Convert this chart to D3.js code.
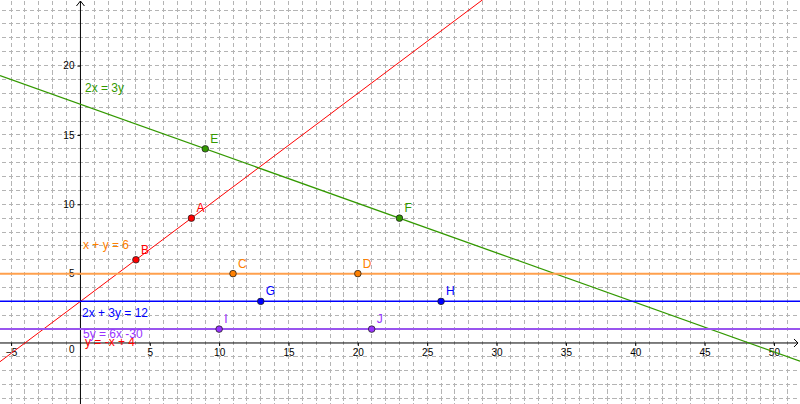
<!DOCTYPE html>
<html>
<head>
<meta charset="utf-8">
<script src="https://cdn.jsdelivr.net/npm/d3@7"></script>
<style>
  body { margin: 0; background: #fff; }
  svg { display: block; font-family: "Liberation Sans", Arial, sans-serif; }
</style>
</head>
<body>
<div id="chart"></div>
<script>
// ===== DATA =====
const lineLabels = ["y = -x + 4", "2x = 3y", "x + y = 6", "2x + 3y = 12", "5y = 6x -30"];
const pointNames = ["A", "B", "E", "F", "C", "D", "G", "H", "I", "J"];
const pointX     = [8, 4, 9, 23, 11, 20, 13, 26, 10, 21];
const pointY     = [9, 6, 14, 9, 5, 5, 3, 3, 1, 1];
const pointLine  = [0, 0, 1, 1, 2, 2, 3, 3, 4, 4];
const xTicks = [-5, 5, 10, 15, 20, 25, 30, 35, 40, 45, 50];
const yTicks = [5, 10, 15, 20];

// ===== STYLE / LAYOUT =====
const width = 800;
const height = 404;
const view = { xMin: -5.8, xMax: 51.88, yMin: -4.4, yMax: 24.73 };

const lineColor  = ["#ff0000", "#339900", "#ffa04d", "#0000ff", "#9955ee"];
const textColor  = ["#ff0000", "#339900", "#ff8000", "#0000ff", "#9933ff"];
const lineWidth  = [1, 1.3, 2, 1.5, 2];
// label anchor (pixel) for each equation text
const labelPos = [
  { x: 85, y: 346 },
  { x: 85, y: 92 },
  { x: 83, y: 249 },
  { x: 82, y: 317 },
  { x: 83, y: 338 }
];

d3.select("#chart").selectAll("*").remove();

const svg = d3.select("#chart")
  .append("svg")
  .attr("width", width)
  .attr("height", height);

const x = d3.scaleLinear().domain([view.xMin, view.xMax]).range([0, width]);
const y = d3.scaleLinear().domain([view.yMin, view.yMax]).range([height, 0]);

const unit = x(1) - x(0);
const period = unit / 2;
const dash = 4.2;

// ===== GRID =====
const grid = svg.append("g")
  .attr("stroke", "#b4b4b4")
  .attr("stroke-width", 1)
  .attr("stroke-dasharray", `${dash},${period - dash}`)
  .attr("shape-rendering", "crispEdges");

grid.selectAll("line.v")
  .data(d3.range(Math.ceil(view.xMin), Math.floor(view.xMax) + 1).filter(d => d !== 0))
  .join("line")
  .attr("class", "v")
  .attr("x1", d => x(d))
  .attr("x2", d => x(d))
  .attr("y1", y(Math.ceil(view.yMax)) - dash / 2)
  .attr("y2", height);

grid.selectAll("line.h")
  .data(d3.range(Math.ceil(view.yMin), Math.floor(view.yMax) + 1).filter(d => d !== 0))
  .join("line")
  .attr("class", "h")
  .attr("y1", d => y(d))
  .attr("y2", d => y(d))
  .attr("x1", x(Math.floor(view.xMin)) - dash / 2)
  .attr("x2", width);

// ===== AXES =====
const xAxis = svg.append("g")
  .attr("transform", `translate(0,${y(0)})`)
  .call(d3.axisBottom(x).tickValues(xTicks).tickSize(3).tickSizeOuter(0));

const yAxis = svg.append("g")
  .attr("transform", `translate(${x(0)},0)`)
  .call(d3.axisLeft(y).tickValues(yTicks).tickSize(3).tickSizeOuter(0));

[xAxis, yAxis].forEach(a => {
  a.select(".domain").remove();
  a.selectAll("text")
    .style("font-size", "10px")
    .style("font-family", "'Liberation Sans', Arial, sans-serif")
    .attr("fill", "#000");
  a.selectAll("line").attr("stroke", "#000");
});

svg.append("text")
  .attr("x", x(0) - 6)
  .attr("y", y(0) + 3)
  .attr("dy", "0.71em")
  .attr("text-anchor", "end")
  .style("font-size", "10px")
  .text("0");

const axisG = svg.append("g")
  .attr("stroke", "#000")
  .attr("stroke-width", 1)
  .attr("fill", "none");

axisG.append("line")
  .attr("x1", 0).attr("x2", width - 2)
  .attr("y1", y(0)).attr("y2", y(0));

axisG.append("path")
  .attr("d", `M${width - 6},${y(0) - 4}L${width - 2},${y(0)}L${width - 6},${y(0) + 4}`);

axisG.append("line")
  .attr("x1", x(0)).attr("x2", x(0))
  .attr("y1", height).attr("y2", 1);

axisG.append("path")
  .attr("d", `M${x(0) - 4},${6}L${x(0)},${1}L${x(0) + 4},${6}`);

// ===== LINES =====
const lines = lineLabels.map((lbl, i) => {
  const idx = pointLine.map((l, k) => l === i ? k : -1).filter(k => k >= 0);
  const p = idx[0], q = idx[1];
  const m = (pointY[q] - pointY[p]) / (pointX[q] - pointX[p]);
  const f = t => pointY[p] + m * (t - pointX[p]);
  return { i, x1: view.xMin, y1: f(view.xMin), x2: view.xMax, y2: f(view.xMax) };
});

svg.append("g")
  .selectAll("line")
  .data(lines)
  .join("line")
  .attr("x1", d => x(d.x1))
  .attr("y1", d => y(d.y1))
  .attr("x2", d => x(d.x2))
  .attr("y2", d => y(d.y2))
  .attr("stroke", d => lineColor[d.i])
  .attr("stroke-width", d => lineWidth[d.i]);

// ===== EQUATION LABELS =====
svg.append("g")
  .selectAll("text")
  .data(lineLabels)
  .join("text")
  .attr("x", (d, i) => labelPos[i].x)
  .attr("y", (d, i) => labelPos[i].y)
  .attr("fill", (d, i) => textColor[i])
  .style("font-size", "12px")
  .text(d => d);

// ===== POINTS =====
const pts = pointNames.map((n, i) => ({ name: n, x: pointX[i], y: pointY[i], line: pointLine[i] }));

svg.append("g")
  .selectAll("circle")
  .data(pts)
  .join("circle")
  .attr("cx", d => x(d.x))
  .attr("cy", d => y(d.y))
  .attr("r", 3.3)
  .attr("fill", d => textColor[d.line])
  .attr("stroke", "#222")
  .attr("stroke-width", 0.8);

svg.append("g")
  .selectAll("text")
  .data(pts)
  .join("text")
  .attr("x", d => x(d.x) + 5)
  .attr("y", d => y(d.y) - 6)
  .attr("fill", d => textColor[d.line])
  .style("font-size", "12px")
  .text(d => d.name);
</script>
</body>
</html>
